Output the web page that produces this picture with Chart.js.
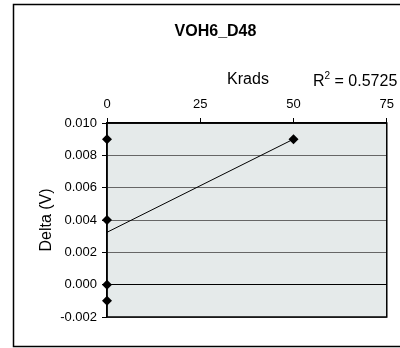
<!DOCTYPE html>
<html>
<head>
<meta charset="utf-8">
<script src="https://cdn.jsdelivr.net/npm/chart.js@4/dist/chart.umd.min.js"></script>
<style>
  body { margin: 0; background: #fff; }
  canvas { display: block; }
</style>
</head>
<body>
<canvas id="chart" width="400" height="348"></canvas>
<script>
// data
const chartTitle = "VOH6_D48";
const xTitle = "Krads";
const yTitle = "Delta (V)";
const rSquared = "0.5725";
const krads = [0, 0, 0, 0, 50];
const delta = [0.009, 0.004, 0.000, -0.001, 0.009];
// linear trendline ends (as drawn)
const trendX = [0, 50];
const trendY = [0.00324, 0.009];

const FONT = "'Liberation Sans', Arial, sans-serif";

// frame, plot background and the extra text
const decor = {
  id: "decor",
  beforeDraw(chart) {
    const ctx = chart.ctx, a = chart.chartArea;
    ctx.save();
    ctx.fillStyle = "#fff";
    ctx.fillRect(0, 0, chart.width, chart.height);
    ctx.strokeStyle = "#000";
    ctx.lineWidth = 1.5;
    ctx.strokeRect(13.5, 4.5, 420, 342);
    ctx.fillStyle = "#e5eaea";
    ctx.fillRect(a.left, a.top, a.right - a.left, a.bottom - a.top);
    ctx.restore();
  },
  afterDraw(chart) {
    const ctx = chart.ctx, a = chart.chartArea;
    ctx.save();
    ctx.strokeStyle = "#000";
    ctx.lineWidth = 1.5;
    ctx.strokeRect(a.left, a.top, a.right - a.left, a.bottom - a.top);

    ctx.fillStyle = "#000";
    ctx.textAlign = "center";
    ctx.textBaseline = "middle";
    ctx.font = "bold 16px " + FONT;
    ctx.fillText(chartTitle, 215.5, 32);

    ctx.font = "16px " + FONT;
    ctx.fillText(xTitle, 248, 80);

    // R² label
    ctx.textAlign = "left";
    ctx.textBaseline = "alphabetic";
    let x = 313;
    ctx.fillText("R", x, 86);
    x += ctx.measureText("R").width;
    ctx.font = "10px " + FONT;
    ctx.fillText("2", x, 79);
    x += ctx.measureText("2").width;
    ctx.font = "16px " + FONT;
    ctx.fillText(" = " + rSquared, x, 86);

    ctx.translate(47, 220);
    ctx.rotate(-Math.PI / 2);
    ctx.textAlign = "center";
    ctx.textBaseline = "middle";
    ctx.fillText(yTitle, 0, 0);
    ctx.restore();
  }
};

new Chart(document.getElementById("chart"), {
  type: "scatter",
  data: {
    datasets: [
      {
        label: "trend",
        type: "line",
        data: trendX.map((x, i) => ({ x: x, y: trendY[i] })),
        borderColor: "#000",
        borderWidth: 1,
        pointRadius: 0,
        fill: false,
        clip: false
      },
      {
        label: "data",
        data: krads.map((x, i) => ({ x: x, y: delta[i] })),
        pointStyle: "rectRot",
        pointRadius: 5,
        backgroundColor: "#000",
        borderColor: "#000",
        borderWidth: 0,
        clip: false
      }
    ]
  },
  options: {
    responsive: false,
    animation: false,
    events: [],
    layout: { padding: { left: 20, top: 0, right: 11, bottom: 31 } },
    plugins: {
      legend: { display: false },
      title: { display: false },
      tooltip: { enabled: false }
    },
    scales: {
      x: {
        type: "linear",
        position: "top",
        min: 0,
        max: 75,
        ticks: {
          stepSize: 25,
          color: "#000",
          font: { family: FONT, size: 13 },
          padding: 6,
          maxRotation: 0
        },
        grid: { drawOnChartArea: false, drawTicks: true, tickLength: 5, tickColor: "#000" },
        border: { display: true, color: "#000", width: 1.5 },
        afterFit(scale) { scale.height = 123; }
      },
      y: {
        type: "linear",
        min: -0.002,
        max: 0.01,
        ticks: {
          stepSize: 0.002,
          color: "#000",
          font: { family: FONT, size: 13 },
          padding: 5,
          callback: v => v.toFixed(3)
        },
        grid: {
          color: c => Math.abs(c.tick.value) < 1e-9 ? "#000" : "#666",
          lineWidth: 1,
          tickLength: 5,
          tickColor: "#000"
        },
        border: { display: true, color: "#000", width: 1.5 },
        afterFit(scale) { scale.width = 87; }
      }
    }
  },
  plugins: [decor]
});
</script>
</body>
</html>
